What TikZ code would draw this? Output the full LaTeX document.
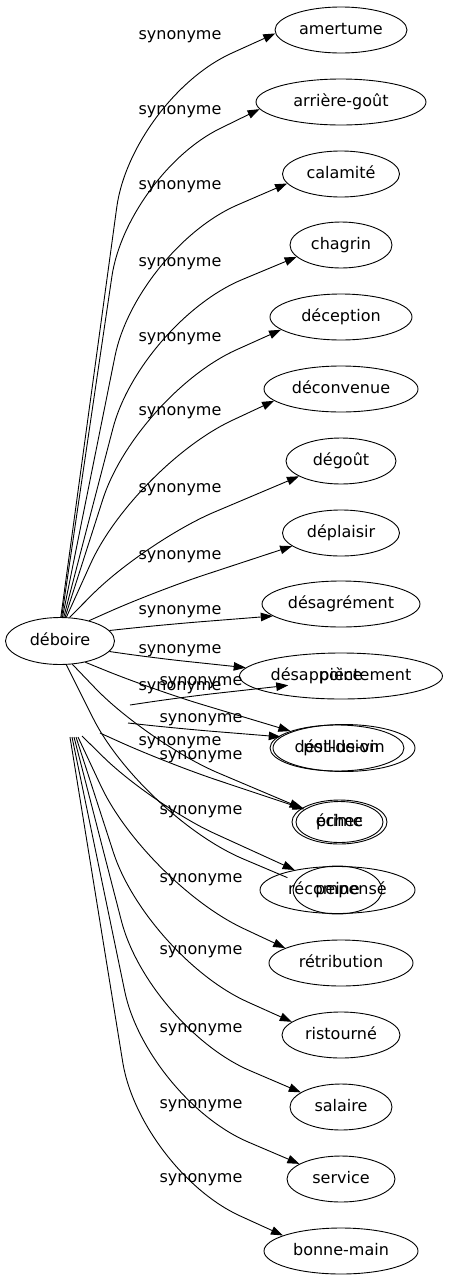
\documentclass[tikz,border=0pt]{standalone}
\usepackage{fontspec}
\setmainfont{DejaVu Sans}
\usetikzlibrary{arrows.meta,calc,shapes.geometric}

\tikzset{
  mot/.style={draw,ellipse,line width=0.9pt,inner sep=0pt,minimum height=46pt,
              text height=11.5pt,text depth=3.5pt,
              font=\fontsize{16}{19}\selectfont},
  syn/.style={-{Triangle[length=12pt,width=8.5pt]},line width=0.9pt},
  etiq/.style={font=\fontsize{16}{19}\selectfont,inner sep=0pt,
               text height=11.5pt,text depth=3.5pt}
}
% arete : montee presque droite, coude arrondi, puis droite vers la cible
\newcommand\synarc[3][]{%
  \draw[syn,#1] let \p1=(#2), \p2=(#3), \n1={\x2-\x1}, \n2={\y2-\y1},
      \n4={max(-65,min(65,0.6*\n2))},
      \n5={veclen(0.33*\n1,\n2-\n4)}, \n6={veclen(0.67*\n1,\n4)},
      \n3={min(110,0.7*min(\n5,\n6))} in
    (\p1) [rounded corners=\n3] -- ({\x1+0.33*\n1},{\y2-\n4}) -- (\p2);}

\begin{document}
\begin{tikzpicture}[x=1pt,y=1pt]
  \useasboundingbox (0,0) rectangle (450,-1283);
  \node[mot,minimum width=109pt,minimum height=47pt] (db) at (60,-641) {déboire};
  \foreach \nm/\y/\w/\t in {
      am/30/132/amertume, ag/102/170/arrière-goût, ca/174/117/calamité,
      ch/245/102/chagrin, dc/317/142/déception, dv/389/154/déconvenue,
      dg/461/110/dégoût, dp/533/117/déplaisir, ds/604/158/désagrément,
      da/676/203/désappointement, rt/963/144/rétribution,
      rs/1035/118/ristourné, sa/1107/102/salaire, se/1179/108/service,
      bm/1251/154/bonne-main}
    \node[mot,minimum width=\w pt] (\nm) at (341,-\y) {\t};
  % noeuds superposes
  \node[mot,draw=none,minimum width=114pt] (pc) at (341,-676) {pièce};
  \node[mot,minimum width=134pt] (di) at (337,-748) {désillusion};
  \node[mot,minimum width=142pt,minimum height=47pt] (pv) at (344,-748) {pot-de-vin};
  \node[mot,minimum width=95pt,minimum height=44pt] (ec) at (339.5,-822) {échec};
  \node[mot,minimum width=87pt,minimum height=41pt] (pr) at (339.5,-822) {prime};
  \node[mot,minimum width=155pt,minimum height=47pt] (rc) at (337.5,-890) {récompensé};
  \node[mot,minimum width=89pt,minimum height=48pt] (pe) at (337.5,-890) {peine};

  % etiquettes
  \foreach \y [count=\i] in {35,110,185,262,337,411,488,555,610,649,686,741}
    \node[etiq] (ls\i) at (180,-\y) {synonyme};
  \foreach \y [count=\i] in {681,718,755,810,878,950,1028,1104,1178}
    \node[etiq] (lt\i) at (201,-\y) {synonyme};

  % aretes depuis deboire
  \foreach \nm/\sa/\ea in {am/88/183, ag/86/185, ca/84/190, ch/81/195,
      dc/78/192, dv/75/190, dg/68/200, dp/35/195, ds/12/190, da/-12/175,
      di/-40/160, ec/-62/160}
    \synarc{db.\sa}{\nm.\ea};
  \synarc[-,shorten >=9pt]{db.-75}{pe.168};

  % aretes sans source visible
  \coordinate (s1) at (130,-705);
  \coordinate (s2) at (128,-723);
  \coordinate (s3) at (100,-733);
  \coordinate (s4) at (82,-736);
  \coordinate (s5) at (78,-737);
  \coordinate (s6) at (76,-737);
  \coordinate (s7) at (74,-737);
  \coordinate (s8) at (72,-737);
  \coordinate (s9) at (70,-737);
  \foreach \s/\nm/\ea in {s1/pc/190, s2/pv/170, s3/pr/160, s4/rc/155,
      s5/rt/165, s6/rs/165, s7/sa/160, s8/se/160, s9/bm/165}
    \synarc{\s}{\nm.\ea};
\end{tikzpicture}
\end{document}
